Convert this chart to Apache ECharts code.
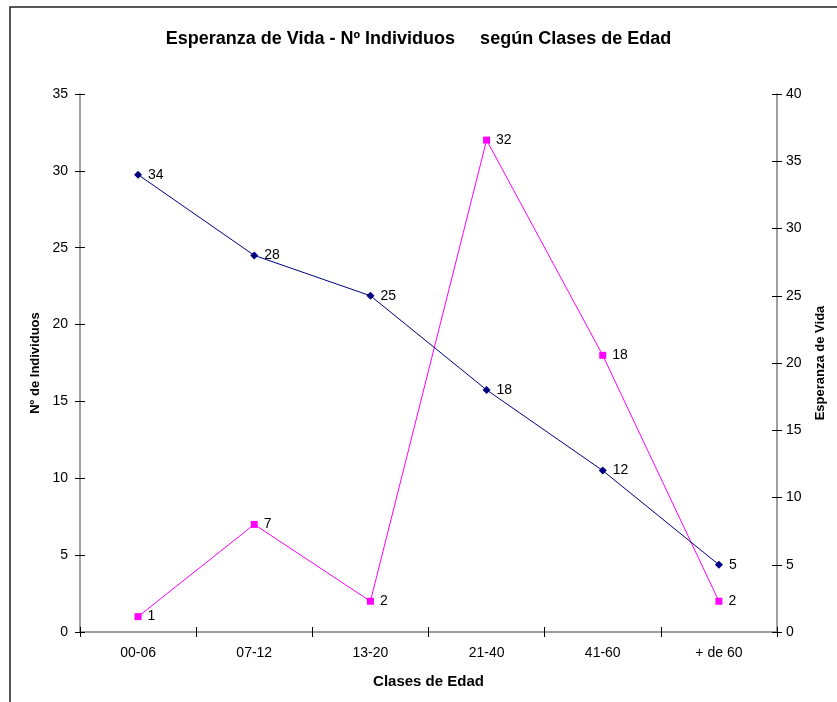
<!DOCTYPE html>
<html><head><meta charset="utf-8">
<script src="https://cdn.jsdelivr.net/npm/echarts@6/dist/echarts.min.js"></script>
<style>html,body{margin:0;padding:0;background:#fff}#c{width:837px;height:702px}</style>
</head><body><div id="c"></div>
<script>
const categories = ['00-06','07-12','13-20','21-40','41-60','+ de 60'];
const individuos = [1, 7, 2, 32, 18, 2];
const esperanza = [34, 28, 25, 18, 12, 5];
const leftTicks = {min:0, max:35, interval:5};
const rightTicks = {min:0, max:40, interval:5};

const font = 'Liberation Sans, Arial, sans-serif';
const chart = echarts.init(document.getElementById('c'), null, {renderer:'canvas'});
const tickOnly = {axisLine:{show:false}, axisLabel:{show:false}, splitLine:{show:false},
  axisTick:{show:true, inside:true, length:5, lineStyle:{color:'#000'}}};
chart.setOption({
  backgroundColor:'#fff',
  animation:false,
  title:{text:'Esperanza de Vida - Nº Individuos     según Clases de Edad', left:'center', top:25,
    textStyle:{fontFamily:font, fontSize:18, fontWeight:'bold', color:'#000'}},
  graphic:[{type:'rect', shape:{x:10, y:7, width:900, height:800}, style:{fill:null, stroke:'#222', lineWidth:1.5}, silent:true}],
  grid:{left:80, right:60, top:94, bottom:70},
  xAxis:[
    {type:'category', data:categories, boundaryGap:true,
    name:'Clases de Edad', nameLocation:'middle', nameGap:42,
    nameTextStyle:{fontFamily:font, fontSize:15, fontWeight:'bold', color:'#000'},
    axisLine:{lineStyle:{color:'#808080', width:1.5}},
    axisTick:{show:true, alignWithLabel:false, length:5, inside:false, lineStyle:{color:'#000'}},
    axisLabel:{fontFamily:font, fontSize:14, color:'#000', margin:14}},
    Object.assign({type:'category', data:categories, boundaryGap:true, position:'bottom'}, tickOnly)
  ],
  yAxis:[
    {type:'value', min:leftTicks.min, max:leftTicks.max, interval:leftTicks.interval, position:'left',
     name:'Nº de Individuos', nameLocation:'middle', nameGap:38, nameRotate:90,
     nameTextStyle:{fontFamily:font, fontSize:13, fontWeight:'bold', color:'#000'},
     axisLine:{show:true, lineStyle:{color:'#808080', width:1.5}},
     axisTick:{show:true, length:5, lineStyle:{color:'#000'}},
     splitLine:{show:false},
     axisLabel:{fontFamily:font, fontSize:14, color:'#000', margin:12}},
    {type:'value', min:rightTicks.min, max:rightTicks.max, interval:rightTicks.interval, position:'right',
     name:'Esperanza de Vida', nameLocation:'middle', nameGap:37, nameRotate:90,
     nameTextStyle:{fontFamily:font, fontSize:13, fontWeight:'bold', color:'#000'},
     axisLine:{show:true, lineStyle:{color:'#808080', width:1.5}},
     axisTick:{show:true, length:5, lineStyle:{color:'#000'}},
     splitLine:{show:false},
     axisLabel:{fontFamily:font, fontSize:14, color:'#000', margin:9}},
    Object.assign({type:'value', min:leftTicks.min, max:leftTicks.max, interval:leftTicks.interval, position:'left'}, tickOnly),
    Object.assign({type:'value', min:rightTicks.min, max:rightTicks.max, interval:rightTicks.interval, position:'right'}, tickOnly)
  ],
  series:[
    {name:'Nº de Individuos', type:'line', yAxisIndex:0, data:individuos,
     symbol:'rect', symbolSize:7, lineStyle:{color:'#FF00FF', width:1}, itemStyle:{color:'#FF00FF'},
     label:{show:true, position:'right', distance:6, fontFamily:font, fontSize:14, color:'#000'}},
    {name:'Esperanza de Vida', type:'line', yAxisIndex:1, data:esperanza,
     symbol:'diamond', symbolSize:8, lineStyle:{color:'#000080', width:1}, itemStyle:{color:'#000080'},
     label:{show:true, position:'right', distance:6, fontFamily:font, fontSize:14, color:'#000'}}
  ]
});
</script></body></html>
